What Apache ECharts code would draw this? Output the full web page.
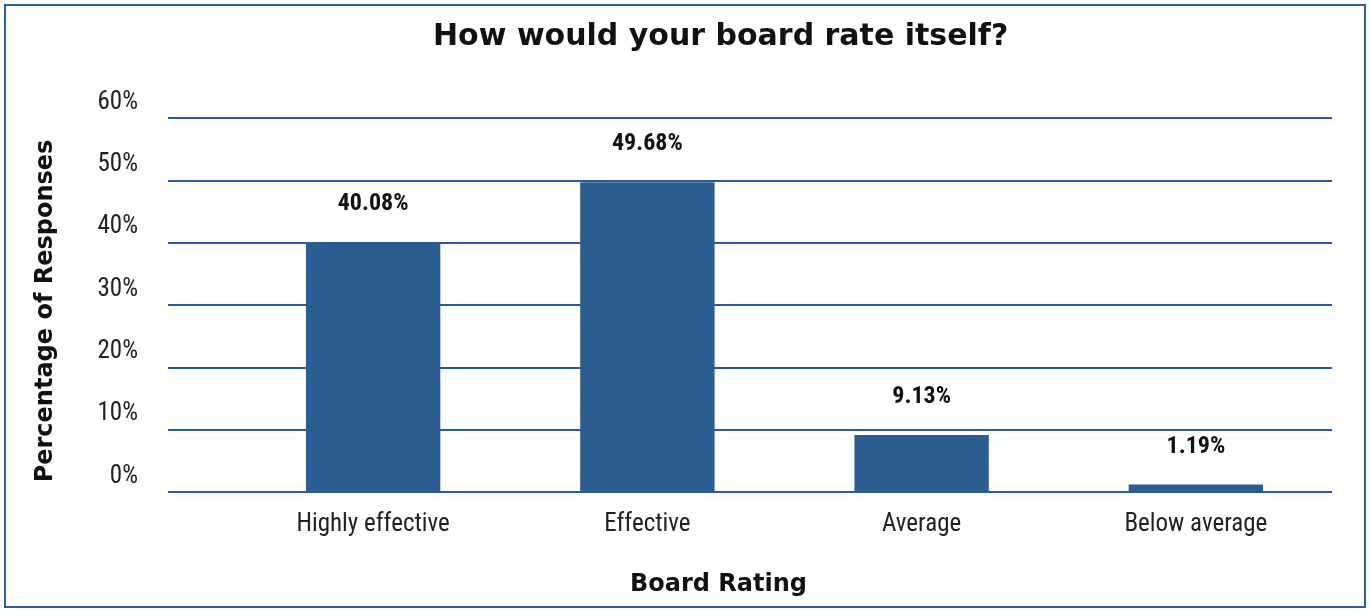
<!DOCTYPE html>
<html><head><meta charset="utf-8">
<script src="https://cdn.jsdelivr.net/npm/echarts@6/dist/echarts.min.js"></script>
<style>html,body{margin:0;padding:0;background:#fff}#c{width:1370px;height:612px}</style>
</head><body><div id="c"></div>
<script>
const categories = ['Highly effective', 'Effective', 'Average', 'Below average'];
const values = [40.08, 49.68, 9.13, 1.19];
const yTicks = [0, 10, 20, 30, 40, 50, 60];

const narrow = "'Liberation Sans Narrow', 'Roboto Condensed', 'Arial Narrow', Arial, sans-serif";
const heavy = "'DejaVu Sans', Arial, sans-serif";
const chart = echarts.init(document.getElementById('c'));
chart.setOption({
  backgroundColor: '#fff',
  title: {
    text: 'How would your board rate itself?',
    left: 428, top: 17,
    textStyle: { fontFamily: heavy, fontWeight: 'bold', fontSize: 30, color: '#111' }
  },
  graphic: [{
    type: 'rect', shape: { x: 5, y: 5, width: 1360, height: 602 },
    style: { fill: 'none', stroke: '#2f5f9e', lineWidth: 2 }, silent: true
  }],
  grid: [
    { left: 236, right: 37, top: 118, bottom: 120 },
    { left: 168, right: 38, top: 118, bottom: 120 }
  ],
  xAxis: [{
    gridIndex: 0, type: 'category', data: categories,
    axisLine: { show: false }, axisTick: { show: false },
    axisLabel: { fontFamily: narrow, fontSize: 25, color: '#222', margin: 20 },
    name: 'Board Rating', nameLocation: 'middle', nameGap: 81,
    nameTextStyle: { fontFamily: heavy, fontWeight: 'bold', fontSize: 24, color: '#111', padding: [0, 0, 0, -132] }
  }, {
    gridIndex: 1, type: 'value', min: 0, max: 1, show: false
  }],
  yAxis: [{
    gridIndex: 0, type: 'value', min: 0, max: 60, interval: 10,
    axisLabel: { show: false }, splitLine: { show: false },
    axisLine: { show: false }, axisTick: { show: false }
  }, {
    gridIndex: 1, type: 'value', min: yTicks[0], max: yTicks[yTicks.length - 1], interval: 10,
    axisLine: { show: false }, axisTick: { show: false },
    splitLine: { show: true, lineStyle: { color: '#2b5aa0', width: 2 } },
    axisLabel: {
      formatter: v => v + '%', fontFamily: narrow, fontSize: 25, color: '#222',
      margin: 30, verticalAlign: 'bottom', padding: [0, 0, 3, 0]
    },
    name: 'Percentage of Responses', nameLocation: 'middle', nameGap: 110, nameRotate: 90,
    nameTextStyle: { fontFamily: heavy, fontWeight: 'bold', fontSize: 24, color: '#111', padding: [0, 0, 0, -12] }
  }],
  series: [{
    type: 'bar', xAxisIndex: 0, yAxisIndex: 0, data: values, barWidth: '49%',
    itemStyle: { color: '#2b5d91' },
    label: {
      show: true, position: 'top', distance: 26, formatter: p => p.value.toFixed(2) + '%',
      fontFamily: narrow, fontWeight: 'bold', fontSize: 24, color: '#111'
    }
  }]
});
</script></body></html>
